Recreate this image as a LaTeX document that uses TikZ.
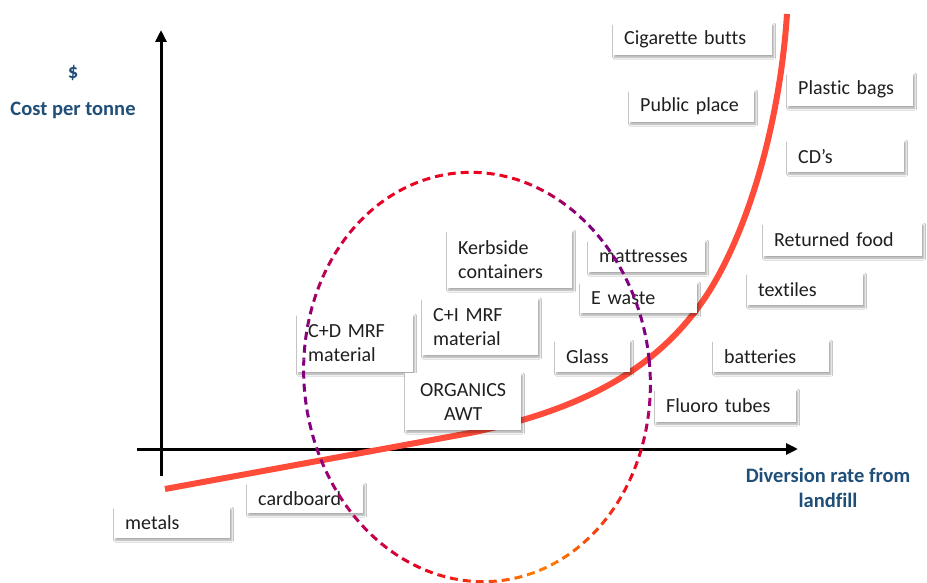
\documentclass[tikz,border=0pt]{standalone}
\usepackage{fontspec}
\setmainfont{Carlito}[Ligatures=NoCommon]
\usepackage{xcolor}
\usepackage{tikz}
\usetikzlibrary{arrows.meta,shadows.blur}

\definecolor{axisblue}{RGB}{31,78,121}
\definecolor{costred}{RGB}{255,76,58}
\definecolor{ringpurple}{RGB}{128,0,128}
\definecolor{ringmagenta}{RGB}{170,0,110}
\definecolor{ringred}{RGB}{235,0,30}
\definecolor{ringorange}{RGB}{255,128,0}
\definecolor{ringcrimson}{RGB}{195,0,75}

% colour of the dashed ring, blended between stops
\newcommand\ringmix[5]{\pgfmathtruncatemacro\ringpct{100*(#1-#2)/(#3-#2)}\colorlet{ringc}{#5!\ringpct!#4}}
\newcommand\ringshade[1]{%
  \ifdim #1pt<15pt \ringmix{#1}{0}{15}{ringpurple}{ringmagenta}\else
  \ifdim #1pt<30pt \ringmix{#1}{15}{30}{ringmagenta}{ringred}\else
  \ifdim #1pt<75pt \ringmix{#1}{30}{75}{ringred}{ringorange}\else
  \ifdim #1pt<115pt \ringmix{#1}{75}{115}{ringorange}{ringred}\else
  \ifdim #1pt<150pt \ringmix{#1}{115}{150}{ringred}{ringmagenta}\else
  \ifdim #1pt<170pt \ringmix{#1}{150}{170}{ringmagenta}{ringpurple}\else
  \ifdim #1pt<195pt \colorlet{ringc}{ringpurple}\else
  \ifdim #1pt<220pt \ringmix{#1}{195}{220}{ringpurple}{ringcrimson}\else
  \ifdim #1pt<245pt \ringmix{#1}{220}{245}{ringcrimson}{ringred}\else
  \ifdim #1pt<290pt \colorlet{ringc}{ringred}\else
  \ifdim #1pt<315pt \ringmix{#1}{290}{315}{ringred}{ringpurple}\else
  \colorlet{ringc}{ringpurple}\fi\fi\fi\fi\fi\fi\fi\fi\fi\fi\fi}

\begin{document}
\begin{tikzpicture}[x=1pt, y=-1pt,
        wastebox/.style={fill=white, align=left, inner xsep=11pt, inner ysep=0pt, anchor=north west, font=\fontsize{20}{24}\selectfont, text=black!88, blur shadow={shadow xshift=1.5pt, shadow yshift=-2pt, shadow blur radius=2pt, shadow opacity=35}},
        axistext/.style={font=\fontsize{20.5}{25}\selectfont\bfseries, text=axisblue, align=center},
        axis/.style={line width=3pt, -{Triangle[length=12pt, width=11pt]}},
        costline/.style={line width=6pt, color=costred},
        ringdash/.style={line width=3pt, ringc, dash pattern=on 8pt off 5pt}]

        \fill[white] (0,0) rectangle (927,583);
        \useasboundingbox (0,0) rectangle (927,583);

        % Axes
        \coordinate (xstart) at (137,449);
        \coordinate (xend) at (798,449);
        \coordinate (ybot) at (161,476);
        \coordinate (ytop) at (161,30);
        \draw[axis] (xstart) -- (xend);
        \draw[axis] (ybot) -- (ytop);

        \node[axistext] (dollar) at (73,73) {\$};
        \node[axistext] (costlabel) at (73,110) {Cost per tonne};
        \node[axistext] (divlabel) at (828,488) {Diversion rate from\\landfill};

        % Cost curve
        \draw[costline] (165,489) -- (470,433) .. controls (580,410) and (660,370) .. (710,290) .. controls (750,225) and (780,120) .. (787,14);

        % Waste streams
        \node[wastebox, text width=137pt, minimum height=32pt] (cigbutts) at (613,23) {Cigarette butts};
        \node[wastebox, text width=103pt, minimum height=32pt] (publicplace) at (629,90) {Public place};
        \node[wastebox, text width=104pt, minimum height=33pt] (plasticbags) at (787,73) {Plastic bags};
        \node[wastebox, text width=95pt, minimum height=32pt] (cds) at (787,140) {CD’s};
        \node[wastebox, text width=137pt, minimum height=33pt] (returnedfood) at (763,223) {Returned food};
        \node[wastebox, text width=94pt, minimum height=32pt] (textiles) at (747,273) {textiles};
        \node[wastebox, text width=94pt, minimum height=32pt] (batteries) at (713,340) {batteries};
        \node[wastebox, text width=119pt, minimum height=33pt] (fluoro) at (655,389) {Fluoro tubes};
        \node[wastebox, text width=95pt, minimum height=32pt] (mattresses) at (588,240) {mattresses};
        \node[wastebox, text width=95pt, minimum height=31pt] (ewaste) at (580,282) {E waste};
        \node[wastebox, text width=53pt, minimum height=32pt] (glass) at (555,340) {Glass};
        \node[wastebox, text width=103pt, minimum height=58pt] (kerbside) at (447,230) {Kerbside\\containers};
        \node[wastebox, text width=94pt, minimum height=57pt] (cimrf) at (422,298) {C+I MRF\\material};
        \node[wastebox, text width=94pt, minimum height=58pt] (cdmrf) at (297,314) {C+D MRF\\material};
        \node[wastebox, align=center, text width=94pt, minimum height=57pt] (organics) at (405,373) {ORGANICS\\AWT};
        \node[wastebox, text width=94pt, minimum height=30pt] (cardboard) at (247,483) {cardboard};
        \node[wastebox, text width=94pt, minimum height=31pt] (metals) at (114,507) {metals};

        % Dashed ring, 5 degree pieces, dash phase carried on
        \xdef\ringlen{0}
        \foreach \t in {0,5,...,355} {
            \pgfmathsetmacro\tm{\t+2.5}
            \ringshade{\tm}
            \draw[ringdash, dash phase=\ringlen pt] plot[smooth, domain=\t:\t+5, samples=4] ({477+173*cos(\x)*cos(6)+205*sin(\x)*sin(6)}, {377-173*cos(\x)*sin(6)+205*sin(\x)*cos(6)});
            \pgfmathsetmacro\seg{veclen(173*(cos(\t+5)-cos(\t)), 205*(sin(\t+5)-sin(\t)))}
            \pgfmathsetmacro\newlen{mod(\ringlen+\seg,13)}
            \xdef\ringlen{\newlen}
        }

\end{tikzpicture}
\end{document}
